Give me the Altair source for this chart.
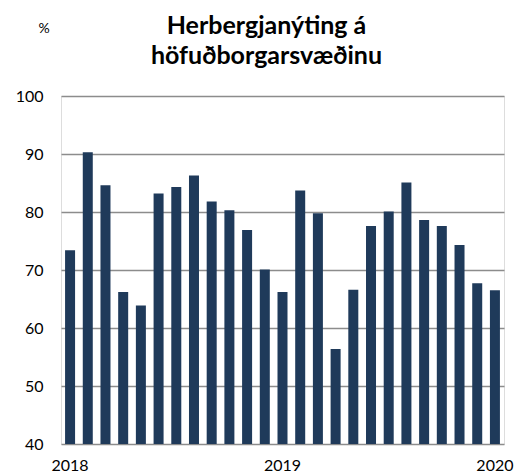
import altair as alt
import pandas as pd

months = [f"{y}-{m:02d}" for y in (2018, 2019) for m in range(1, 13)] + ["2020-01"]
values = [73.4, 90.3, 84.6, 66.2, 63.9, 83.2, 84.3, 86.3, 81.8, 80.3, 76.9, 70.1,
          66.2, 83.7, 79.8, 56.4, 66.6, 77.6, 80.1, 85.1, 78.6, 77.6, 74.3, 67.7, 66.5]
y_ticks = [40, 50, 60, 70, 80, 90, 100]
title_lines = ["Herbergjanýting á", "höfuðborgarsvæðinu"]
unit_label = ["%"]

df = pd.DataFrame({"month": months, "value": values})
unit_df = pd.DataFrame({"t": unit_label})

FONT = "Lato"

bars = alt.Chart(df).mark_bar(color="#1f3a5a").encode(
    x=alt.X("month:O", sort=None,
            scale=alt.Scale(paddingInner=0.435, paddingOuter=0.23),
            axis=alt.Axis(title=None, labelAngle=0, ticks=False, domain=False,
                          labelExpr="slice(datum.value,5)=='01' ? slice(datum.value,0,4) : ''",
                          labelFont=FONT, labelFontSize=16, labelColor="#000000",
                          labelPadding=13, grid=False)),
    y=alt.Y("value:Q", scale=alt.Scale(domain=[40, 100], zero=False, nice=False),
            axis=alt.Axis(values=y_ticks, grid=True, gridColor="#8c8c8c", gridWidth=1.5,
                          domain=False, ticks=False, labelFont=FONT, labelFontSize=16,
                          labelColor="#000000", labelPadding=18, title=None)),
    y2=alt.datum(40),
)

unit = alt.Chart(unit_df).mark_text(font=FONT, fontSize=14, color="#000000",
                                    align="center", baseline="middle").encode(
    text="t:N", x=alt.value(-17), y=alt.value(-67))

chart = alt.layer(bars, unit).properties(
    width=443, height=348,
    autosize=alt.AutoSizeParams(type="none"),
    padding={"left": 53, "top": 88, "right": 14, "bottom": 31},
    title=alt.Title(title_lines, font=FONT, fontSize=25, fontWeight="bold",
                    color="#000000", anchor="middle", dx=-16, offset=-47, lineHeight=30),
).configure_view(stroke=None).configure(background="white")

chart.save("out.html", embed_options={"renderer": "svg", "actions": False})
